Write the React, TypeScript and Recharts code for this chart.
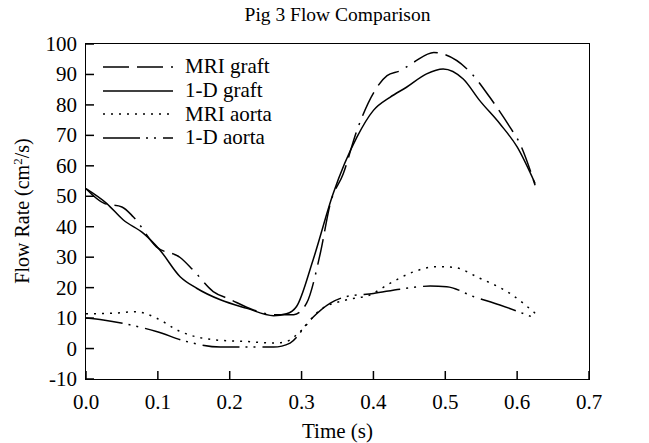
import { LineChart, Line, XAxis, YAxis } from 'recharts';

const FONT = '"Liberation Serif", "Times New Roman", serif';

// time (s) and flow rate (cm^2/s)
const mriGraftTime = [0, 0.026, 0.05, 0.066, 0.098, 0.131, 0.149, 0.177, 0.2, 0.233, 0.261, 0.289, 0.307, 0.326, 0.34, 0.358, 0.377, 0.402, 0.419, 0.437, 0.456, 0.484, 0.497, 0.535, 0.562, 0.59, 0.604, 0.625];
const mriGraftFlow = [52.5, 47.6, 46.5, 43.2, 33.4, 29.9, 25.8, 18.7, 16.2, 12.7, 11.1, 11.1, 14.9, 31.2, 47.6, 57.4, 71.6, 84.7, 89.6, 91.2, 94, 97.2, 96.7, 90.7, 82.5, 72.7, 67.2, 53.6];

const oneDGraftTime = [0, 0.029, 0.052, 0.08, 0.103, 0.131, 0.154, 0.187, 0.224, 0.261, 0.279, 0.293, 0.316, 0.344, 0.377, 0.4, 0.423, 0.446, 0.474, 0.497, 0.525, 0.548, 0.576, 0.6, 0.625];
const oneDGraftFlow = [52.5, 47.6, 42.2, 37.8, 32.3, 23.6, 19.8, 16, 13.2, 10.8, 11.4, 13.8, 29.1, 50.9, 69.4, 78.2, 82.5, 85.8, 90.2, 91.8, 88.5, 81.4, 73.8, 66.2, 54.2];

const mriAortaTime = [0, 0.038, 0.07, 0.098, 0.131, 0.177, 0.224, 0.261, 0.279, 0.298, 0.326, 0.363, 0.395, 0.423, 0.456, 0.488, 0.511, 0.548, 0.59, 0.625];
const mriAortaFlow = [11.4, 11.6, 12.1, 10, 5.6, 2.9, 2.3, 1.8, 2.3, 5.6, 12.7, 16, 17.6, 21.4, 25.2, 26.9, 26.7, 23.1, 18.1, 11.6];

const oneDAortaTime = [0, 0.024, 0.061, 0.098, 0.14, 0.187, 0.233, 0.261, 0.284, 0.312, 0.34, 0.363, 0.4, 0.437, 0.479, 0.502, 0.539, 0.576, 0.625];
const oneDAortaFlow = [10, 9.4, 7.8, 5.6, 2.3, 0.5, 0.5, 0.5, 1.8, 9.4, 14.9, 17.1, 18.1, 19.5, 20.5, 20.3, 17.1, 14.3, 10];

const xTicks = [0, 0.1, 0.2, 0.3, 0.4, 0.5, 0.6, 0.7];
const yTicks = [-10, 0, 10, 20, 30, 40, 50, 60, 70, 80, 90, 100];

const zip = (t: number[], q: number[]) => t.map((x, i) => ({ t: x, q: q[i] }));

const series = [
  { name: 'MRI graft', data: zip(mriGraftTime, mriGraftFlow), dash: '26 8 26 8 2 8' },
  { name: '1-D graft', data: zip(oneDGraftTime, oneDGraftFlow), dash: undefined },
  { name: 'MRI aorta', data: zip(mriAortaTime, mriAortaFlow), dash: '2 6' },
  { name: '1-D aorta', data: zip(oneDAortaTime, oneDAortaFlow), dash: '37 6 2 6 2 7' },
];

function XTick({ x, y, payload }: any) {
  return (
    <g>
      <line x1={x} y1={y} x2={x} y2={y - 8} stroke="#000" strokeWidth={1.5} />
      <text x={x} y={y + 30} textAnchor="middle" fontFamily={FONT} fontSize={21} fill="#000">
        {Number(payload.value).toFixed(1)}
      </text>
    </g>
  );
}

function YTick({ x, y, payload }: any) {
  return (
    <g>
      <line x1={x} y1={y} x2={x + 8} y2={y} stroke="#000" strokeWidth={1.5} />
      <text x={x - 9} y={y + 7} textAnchor="end" fontFamily={FONT} fontSize={21} fill="#000">
        {payload.value}
      </text>
    </g>
  );
}

function LegendBox() {
  return (
    <div style={{ position: 'absolute', left: 103, top: 55, fontFamily: FONT, fontSize: 21, color: '#000' }}>
      {series.map((s) => (
        <div key={s.name} style={{ display: 'flex', alignItems: 'center', height: 23.7 }}>
          <svg width={70} height={10} style={{ marginRight: 12 }}>
            <line x1={0} y1={5} x2={70} y2={5} stroke="#000" strokeWidth={1.5} strokeDasharray={s.dash} />
          </svg>
          <span>{s.name}</span>
        </div>
      ))}
    </div>
  );
}

export default function App() {
  return (
    <div style={{ position: 'absolute', left: 0, top: 0, width: 649, height: 443, background: '#fff' }}>
      <div
        style={{
          position: 'absolute', left: 86, top: 4, width: 503, textAlign: 'center',
          fontFamily: FONT, fontSize: 19.5, color: '#000',
        }}
      >
        Pig 3 Flow Comparison
      </div>
      <div
        style={{
          position: 'absolute', left: 22, top: 211, transform: 'translate(-50%, -50%) rotate(-90deg)',
          whiteSpace: 'nowrap', fontFamily: FONT, fontSize: 20, color: '#000',
        }}
      >
        Flow Rate (cm<sup style={{ fontSize: 13 }}>2</sup>/s)
      </div>
      <div
        style={{
          position: 'absolute', left: 86, top: 419, width: 503, textAlign: 'center',
          fontFamily: FONT, fontSize: 21, color: '#000',
        }}
      >
        Time (s)
      </div>
      <LineChart width={649} height={443} margin={{ top: 44, right: 60, bottom: 0, left: 0 }}>
        <XAxis
          dataKey="t"
          type="number"
          domain={[0, 0.7]}
          ticks={xTicks}
          height={64}
          tickSize={0}
          tickMargin={0}
          tickLine={false}
          axisLine={false}
          tick={<XTick />}
          interval={0}
        />
        <YAxis
          type="number"
          domain={[-10, 100]}
          ticks={yTicks}
          width={86}
          tickSize={0}
          tickMargin={0}
          tickLine={false}
          axisLine={false}
          tick={<YTick />}
          interval={0}
        />
        {series.map((s) => (
          <Line
            key={s.name}
            data={s.data}
            dataKey="q"
            name={s.name}
            type="monotone"
            stroke="#000"
            strokeWidth={1.5}
            strokeDasharray={s.dash}
            dot={false}
            isAnimationActive={false}
          />
        ))}
      </LineChart>
      <div
        style={{
          position: 'absolute', left: 85.25, top: 43.25, width: 504.5, height: 336.5,
          boxSizing: 'border-box', border: '1.5px solid #000', pointerEvents: 'none',
        }}
      />
      <LegendBox />
    </div>
  );
}
